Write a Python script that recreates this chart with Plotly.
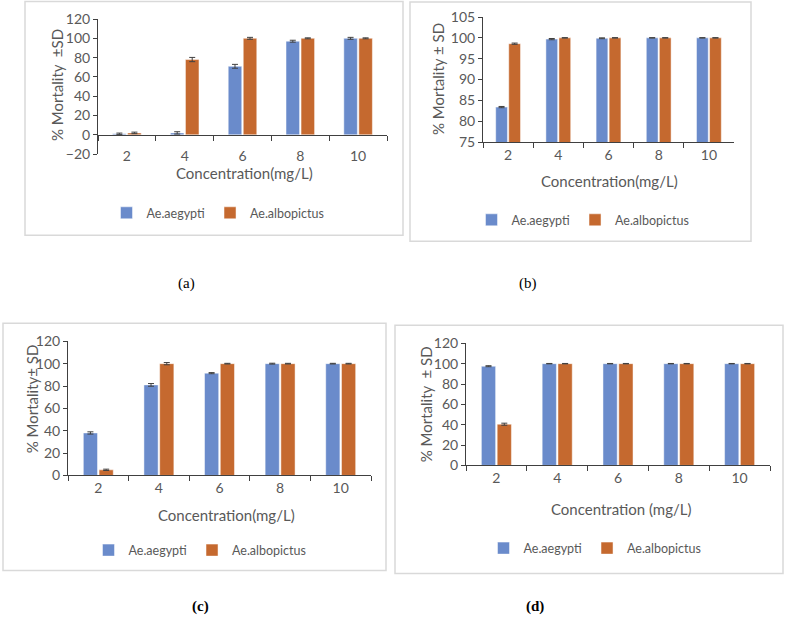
import plotly.graph_objects as go

W, H = 787, 627

concentrations = ["2", "4", "6", "8", "10"]
series_names = ["Ae.aegypti", "Ae.albopictus"]

a_aegypti = [1, 2, 71, 97, 100]
a_aegypti_sd = [0.8, 1.2, 2.0, 1.0, 1.0]
a_albopictus = [2, 78, 100, 100, 100]
a_albopictus_sd = [0.8, 2.2, 1.0, 0.5, 0.5]

b_aegypti = [83.4, 99.7, 99.9, 100, 100]
b_aegypti_sd = [0.15, 0.15, 0.1, 0.05, 0.05]
b_albopictus = [98.6, 100, 100, 100, 100]
b_albopictus_sd = [0.15, 0.05, 0.05, 0.05, 0.05]

c_aegypti = [38, 81, 91.5, 100, 100]
c_aegypti_sd = [1.0, 1.2, 0.5, 0.4, 0.3]
c_albopictus = [5, 100, 100, 100, 100]
c_albopictus_sd = [0.6, 1.0, 0.3, 0.3, 0.3]

d_aegypti = [97.5, 100, 100, 100, 100]
d_aegypti_sd = [0.5, 0.2, 0.2, 0.2, 0.2]
d_albopictus = [40.5, 100, 100, 100, 100]
d_albopictus_sd = [1.0, 0.2, 0.2, 0.2, 0.2]

y_titles = ["% Mortality  \u00b1SD", "% Mortality \u00b1 SD", "% Mortality\u00b1 SD", "% Mortality  \u00b1 SD"]
x_titles = ["Concentration(mg/L)", "Concentration(mg/L)", "Concentration(mg/L)", "Concentration (mg/L)"]
captions = ["(a)", "(b)", "(c)", "(d)"]

BLUE = "#6A8BCB"
ORANGE = "#C5692F"
TXT = "#595959"
AX = "#404040"
FONT = "Lato"

# vertical calibration of the rendered page (observed offset / scale)
V_OFF, V_SCALE = 9.0, 0.972


def px(x):
    return x / W


def py(y):
    return 1 - ((y - V_OFF) / V_SCALE) / H


panels = [
    dict(data=(a_aegypti, a_aegypti_sd, a_albopictus, a_albopictus_sd),
         xd=(98, 387), yd=(19, 154), yr=(-20, 120), dt=20,
         frame=(25, 1.5, 403, 235), xt=(244, 173), yt=(57, 85), leg=(218, 213), cap=(186, 283), bold=False),
    dict(data=(b_aegypti, b_aegypti_sd, b_albopictus, b_albopictus_sd),
         xd=(483, 734), yd=(17, 142), yr=(75, 105), dt=5,
         frame=(410, 2, 751, 241), xt=(609, 181), yt=(438, 79), leg=(583, 220), cap=(528, 283), bold=False),
    dict(data=(c_aegypti, c_aegypti_sd, c_albopictus, c_albopictus_sd),
         xd=(68, 371), yd=(341, 475), yr=(0, 120), dt=20,
         frame=(3, 323, 386, 570), xt=(226, 515), yt=(32, 399), leg=(200, 550), cap=(200, 606), bold=True),
    dict(data=(d_aegypti, d_aegypti_sd, d_albopictus, d_albopictus_sd),
         xd=(466, 770), yd=(343, 465), yr=(0, 120), dt=20,
         frame=(395, 325, 783, 573), xt=(621, 509), yt=(426, 404), leg=(595, 548), cap=(535, 606), bold=True),
]

fig = go.Figure()
shapes = []
annotations = []

for i, p in enumerate(panels):
    n = i + 1
    xa = "x" if n == 1 else f"x{n}"
    ya = "y" if n == 1 else f"y{n}"
    lg = "legend" if n == 1 else f"legend{n}"
    v1, s1, v2, s2 = p["data"]
    for vals, sds, name, col in ((v1, s1, series_names[0], BLUE), (v2, s2, series_names[1], ORANGE)):
        fig.add_trace(go.Bar(
            x=concentrations, y=vals, name=name, xaxis=xa, yaxis=ya, legend=lg,
            marker=dict(color=col, line=dict(color="rgba(255,255,255,0.6)", width=0.8)),
            error_y=dict(type="data", array=sds, visible=True, color=AX, thickness=1, width=3),
        ))
    y0p, y1p = py(p["yd"][1]), py(p["yd"][0])
    xaxis = dict(domain=[px(p["xd"][0]), px(p["xd"][1])], anchor=ya, type="category",
                 categoryarray=concentrations, range=[-0.5, 4.5],
                 showline=True, linecolor=AX, linewidth=1, ticks="outside", tickson="boundaries",
                 ticklen=5, tickcolor=AX, showgrid=False, zeroline=False,
                 tickfont=dict(family=FONT, size=14, color=TXT), fixedrange=True)
    if n == 1:
        xaxis.update(showline=False, ticks="", anchor="free", position=py(p["yd"][1] - 8))
    yaxis = dict(domain=[y0p, y1p], anchor=xa, range=list(p["yr"]), dtick=p["dt"], tick0=p["yr"][0],
                 showline=True, linecolor=AX, linewidth=1, ticks="outside", ticklen=4, tickcolor=AX,
                 showgrid=False, zeroline=False,
                 tickfont=dict(family=FONT, size=14, color=TXT), fixedrange=True)
    fig.update_layout(**{("xaxis" if n == 1 else f"xaxis{n}"): xaxis,
                         ("yaxis" if n == 1 else f"yaxis{n}"): yaxis})
    fig.update_layout(**{lg: dict(x=px(p["leg"][0]), y=py(p["leg"][1]), xanchor="center", yanchor="middle",
                                  orientation="h", font=dict(family=FONT, size=12.5, color=TXT),
                                  bgcolor="rgba(0,0,0,0)", itemwidth=30, tracegroupgap=0)})
    fx0, fy0, fx1, fy1 = p["frame"]
    shapes.append(dict(type="rect", xref="paper", yref="paper", x0=px(fx0), x1=px(fx1), y0=py(fy1), y1=py(fy0),
                       line=dict(color="#D9D9D9", width=1.5), fillcolor="rgba(0,0,0,0)", layer="below"))
    annotations.append(dict(text=x_titles[i], x=px(p["xt"][0]), y=py(p["xt"][1]), xref="paper", yref="paper",
                            showarrow=False, xanchor="center", yanchor="middle",
                            font=dict(family=FONT, size=15, color=TXT)))
    annotations.append(dict(text=y_titles[i], x=px(p["yt"][0]), y=py(p["yt"][1]), xref="paper", yref="paper",
                            showarrow=False, xanchor="center", yanchor="middle", textangle=-90,
                            font=dict(family=FONT, size=15, color=TXT)))
    cap = f"<b>{captions[i]}</b>" if p["bold"] else captions[i]
    annotations.append(dict(text=cap, x=px(p["cap"][0]), y=py(p["cap"][1]), xref="paper", yref="paper",
                            showarrow=False, xanchor="center", yanchor="middle",
                            font=dict(family="Liberation Serif", size=15, color="#000000")))

# zero-crossing category axis for panel (a)
pa = panels[0]
zero_frac = (0 - pa["yr"][0]) / (pa["yr"][1] - pa["yr"][0])
zero_pos = py(pa["yd"][1]) + zero_frac * (py(pa["yd"][0]) - py(pa["yd"][1]))
fig.add_trace(go.Scatter(x=concentrations, y=[None] * len(concentrations), xaxis="x5", yaxis="y",
                         showlegend=False, hoverinfo="skip", mode="lines"))
fig.update_layout(xaxis5=dict(overlaying="x", anchor="free", position=zero_pos, type="category",
                              domain=[px(pa["xd"][0]), px(pa["xd"][1])],
                              categoryarray=concentrations, range=[-0.5, 4.5],
                              showline=True, linecolor=AX, linewidth=1, ticks="outside", tickson="boundaries",
                              ticklen=5, tickcolor=AX, showticklabels=False, showgrid=False, zeroline=False,
                              fixedrange=True))

fig.update_layout(width=W, height=H, margin=dict(l=0, r=0, t=0, b=0),
                  paper_bgcolor="white", plot_bgcolor="rgba(0,0,0,0)",
                  barmode="group", bargap=0.48, bargroupgap=0.1,
                  shapes=shapes, annotations=annotations, showlegend=True)

fig.write_html("out.html", config={"displayModeBar": False},
               post_script=("document.documentElement.style.margin='0';"
                            "document.documentElement.style.overflow='hidden';"
                            "document.body.style.margin='0';"
                            "document.body.style.overflow='hidden';"))
